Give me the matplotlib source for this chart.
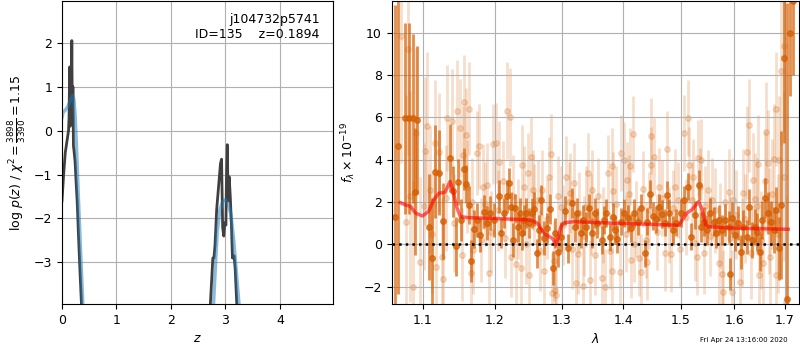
import numpy as np
import matplotlib
matplotlib.use('Agg')
import matplotlib.pyplot as plt
from matplotlib.ticker import FixedLocator, FixedFormatter, NullLocator

plt.rcParams['font.size'] = 9

# --- left panel: log p(z) ---
z_chi = [0.00, 0.03, 0.06, 0.09, 0.12, 0.13, 0.14, 0.15, 0.16, 0.17, 0.18, 0.19, 0.20, 0.21,
         0.22, 0.24, 0.26, 0.28, 0.30, 0.33, 0.37, np.nan,
         2.70, 2.77, 2.79, 2.81, 2.84, 2.88, 2.91, 2.93, 2.95, 2.97, 2.99, 3.01, 3.02, 3.035,
         3.05, 3.07, 3.09, 3.11, 3.13, 3.16, 3.18, 3.23]
pz_chi = [-1.6, -1.0, -0.5, -0.25, 0.0, 0.3, 1.45, 0.1, 1.2, 0.5, 2.05, 0.3, 1.0, -0.35,
          -0.45, -0.7, -1.2, -1.65, -2.3, -3.2, -4.3, np.nan,
          -4.5, -2.9, -2.9, -2.6, -1.8, -1.2, -0.75, -0.65, -2.2, -2.4, -2.1, -2.15, -1.1, -0.32,
          -1.6, -1.05, -1.5, -2.1, -2.9, -2.85, -3.15, -4.5]

z_pdf = [0.0, 0.02, 0.05, 0.08, 0.11, 0.14, 0.17, 0.20, 0.22, 0.24, 0.26, 0.28, 0.30, 0.32,
         0.34, 0.36, 0.38, 0.40, np.nan,
         2.76, 2.80, 2.85, 2.90, 2.95, 3.00, 3.05, 3.10, 3.15, 3.20, 3.25, 3.28]
pz_pdf = [0.3, 0.42, 0.45, 0.5, 0.55, 0.65, 0.75, 0.8, 0.7, 0.35, -0.2, -0.85, -1.5, -2.1,
          -2.7, -3.3, -3.9, -4.5, np.nan,
          -4.5, -3.5, -2.3, -1.8, -1.62, -1.57, -1.65, -1.9, -2.45, -3.2, -3.95, -4.5]

# --- right panel: spectrum ---
lam_d = [1.0645, 1.068, 1.077, 1.082, 1.088, 1.090, 1.093, 1.108, 1.112, 1.117,
         1.122, 1.127, 1.1375, 1.141, 1.145, 1.148, 1.152, 1.156, 1.159, 1.163,
         1.166, 1.170, 1.175, 1.179, 1.184, 1.188, 1.193, 1.199,
         1.206, 1.209, 1.2135, 1.217, 1.221, 1.223, 1.226, 1.229, 1.233, 1.236,
         1.2395, 1.243, 1.246, 1.250, 1.254, 1.258, 1.2615, 1.2655, 1.269, 1.273,
         1.278, 1.282, 1.286, 1.290, 1.295, 1.2985, 1.306, 1.310, 1.317, 1.321,
         1.324, 1.330, 1.3335, 1.339, 1.343, 1.349, 1.353, 1.357,
         1.364, 1.3685, 1.372, 1.3775, 1.383, 1.386, 1.390, 1.3955, 1.402, 1.408,
         1.4135, 1.419, 1.425, 1.4305, 1.4365, 1.441, 1.446, 1.451, 1.457, 1.461,
         1.467, 1.472, 1.475, 1.480, 1.486, 1.492, 1.500, 1.506, 1.5135, 1.5195,
         1.526, 1.534, 1.538,
         1.542, 1.548, 1.5545, 1.561, 1.566, 1.570, 1.576, 1.5825, 1.589, 1.591,
         1.595, 1.601, 1.608, 1.6125, 1.6175, 1.624, 1.629, 1.634, 1.640, 1.6445,
         1.650, 1.655, 1.661, 1.6665, 1.673, 1.678, 1.682, 1.688, 1.693, 1.6975,
         1.705, 1.710, 1.716]
flux_d = [1.31, 4.63, 5.95, 5.95, 5.95, 2.49, 5.86, 0.83, -0.63, 3.44,
          3.39, 1.12, 4.08, 2.5, -0.1, 2.94, 1.15, 3.55, 2.86, 1.86,
          -0.79, 0.71, 1.15, 0.44, 1.55, 1.0, 1.47, 1.15,
          2.26, 0.53, 1.47, 2.26, 2.89, 1.78, 0.2, 1.7, 0.83, 1.47,
          0.52, 1.15, 1.47, 1.02, 1.47, 1.66, -0.43, 0.68, 2.1, 0.28,
          0.76, 1.66, -1.14, 0.52, -0.35, 0.36, 1.59, -0.19, 1.94, 0.83,
          1.47, 0.52, 1.15, 0.83, 1.7, 0.52, 1.47, 1.02,
          0.2, 1.15, 1.47, 0.33, 1.31, 0.68, 0.24, 1.07, 1.47, 1.23,
          0.76, 1.47, 1.07, 1.71, -0.43, 1.07, 2.38, 1.34, 1.18, 1.75,
          1.44, 1.02, 2.34, 1.47, 0.68, 1.02, 1.47, 2.1, 2.73, 0.36,
          1.39, 2.81, 0.83,
          1.07, 0.68, 1.47, 1.07, 0.52, 1.15, 0.68, 1.15, 0.83, -1.42,
          1.23, 0.44, 1.0, -0.35, 0.83, 0.36, 1.75, 0.2, 0.83, 0.6,
          -0.35, 1.15, 2.18, 1.47, 1.07, 0.68, 1.63, -0.19, 1.86, 8.8,
          -2.6, 10.0, 11.5]
err_d = [10, 7, 4.5, 4.5, 4, 3, 3.5, 2.5, 2.8, 2.2,
         2.0, 1.8, 1.6, 1.2, 1.4, 1.1, 1.0, 1.0, 0.9, 0.9,
         1.0, 0.9, 0.8, 0.8, 0.8, 0.8, 0.8, 0.8,
         0.8, 0.7, 0.7, 0.8, 0.7, 0.7, 0.8, 0.7, 0.7, 0.7,
         0.8, 0.7, 0.7, 0.7, 0.7, 0.8, 0.7, 0.7, 0.7, 0.8,
         0.7, 0.7, 0.8, 0.7, 0.7, 0.7, 0.7, 0.7, 0.7, 0.7,
         0.7, 0.7, 0.7, 0.7, 0.7, 0.7, 0.7, 0.7,
         0.65, 0.65, 0.65, 0.65, 0.65, 0.65, 0.65, 0.65, 0.65, 0.65,
         0.65, 0.65, 0.65, 0.65, 0.65, 0.65, 0.65, 0.65, 0.65, 0.65,
         0.65, 0.65, 0.65, 0.65, 0.65, 0.65, 0.65, 0.65, 0.65, 0.65,
         0.65, 0.7, 0.7,
         0.7, 0.7, 0.7, 0.7, 0.7, 0.7, 0.7, 0.75, 0.75, 0.75,
         0.75, 0.75, 0.8, 0.8, 0.8, 0.8, 0.85, 0.85, 0.85, 0.9,
         0.9, 0.9, 0.95, 1.0, 1.0, 1.1, 1.1, 1.5, 3.5, 4.0,
         14, 3.0, 3.5]

lam_l = [1.0725, 1.079, 1.081, 1.084, 1.0875, 1.091, 1.097, 1.103, 1.106, 1.1095,
         1.117, 1.1175, 1.122, 1.126, 1.128, 1.1335, 1.140, 1.146, 1.150, 1.1555,
         1.156, 1.159, 1.160, 1.163, 1.166, 1.169, 1.174, 1.177, 1.183, 1.188,
         1.191, 1.197,
         1.2015, 1.206, 1.211, 1.218, 1.2215, 1.224, 1.231, 1.238, 1.2395, 1.243,
         1.248, 1.250, 1.253, 1.2555, 1.263, 1.2695, 1.273, 1.280, 1.2835, 1.285,
         1.290, 1.292, 1.295, 1.2985, 1.307, 1.314, 1.3195, 1.322, 1.3255, 1.3335,
         1.338, 1.342, 1.345, 1.349, 1.354,
         1.364, 1.3695, 1.375, 1.3805, 1.382, 1.383, 1.394, 1.397, 1.401, 1.407,
         1.412, 1.4125, 1.416, 1.419, 1.4275, 1.4305, 1.441, 1.4475, 1.448, 1.4535,
         1.462, 1.4715, 1.476, 1.482, 1.486, 1.495, 1.506, 1.5125, 1.515, 1.520,
         1.526, 1.532, 1.535,
         1.537, 1.542, 1.551, 1.5575, 1.570, 1.576, 1.579, 1.589, 1.595, 1.598,
         1.611, 1.6175, 1.625, 1.629, 1.637, 1.640, 1.6465, 1.6485, 1.653, 1.660,
         1.663, 1.6665, 1.671, 1.678, 1.682, 1.683, 1.688, 1.693, 1.6975, 1.703,
         # points inside the main band
         1.102, 1.113, 1.131, 1.143, 1.153, 1.168, 1.180, 1.186, 1.195, 1.204,
         1.214, 1.227, 1.234, 1.245, 1.258, 1.267, 1.277, 1.288, 1.302, 1.311,
         1.317, 1.328, 1.336, 1.347, 1.359, 1.367, 1.378, 1.388, 1.404, 1.409,
         1.421, 1.433, 1.438, 1.444, 1.458, 1.466, 1.479, 1.490, 1.498, 1.509,
         1.523, 1.529, 1.545, 1.554, 1.563, 1.573, 1.583, 1.592, 1.604, 1.614,
         1.621, 1.632, 1.644, 1.657, 1.669, 1.675, 1.686, 1.699]
flux_l = [9.84, 1.07, 9.21, 2.26, -2.02, 5.26, -0.82, 4.39, 5.57, 2.57,
          4.79, -1.06, 4.34, -0.62, -1.66, 5.97, 5.81, 6.32, 5.5, 4.23,
          6.73, 5.18, 2.73, 6.4, -1.35, -0.27, 4.31, 4.63, 2.73, 2.81,
          -1.37, 4.75,
          4.79, 3.91, 2.97, 6.32, 6.02, -0.59, -0.95, -1.14, 3.76, 2.73,
          3.36, -1.45, 4.12, 2.57, 2.1, 2.57, -1.25, 3.18, 4.28, -2.32,
          -2.17, -2.4, 2.26, 1.78, 3.2, 2.42, 2.89, -1.85, -0.46, -1.98,
          1.78, 3.36, -1.69, 2.57, -0.51,
          -1.61, -2.01, 3.36, 3.68, -1.25, 2.54, -1.3, 4.31, 4.0, 3.05,
          3.68, -0.74, 5.23, 0.01, -0.66, -1.3, -0.82, 5.1, 3.76, 4.15,
          2.73, -0.43, 4.5, -0.46, 1.71, 2.1, 5.26, 5.97, 3.76, 2.1,
          0.05, 4.08, 2.73,
          4.0, -0.43, 2.57, 2.1, -0.9, -1.41, -2.25, 2.49, -2.25, 2.1,
          -1.77, 2.42, 4.34, 5.62, 3.05, 2.13, 3.81, -1.45, 0.2, 2.97,
          5.29, 3.84, -0.59, 4.03, 6.4, -1.45, 4.0, 8.18, 9.36, -2.72,
          1.8, 0.5, 2.2, 1.0, -0.5, 2.0, 0.2, 1.9, 0.6, 1.6,
          0.3, 2.3, 1.2, 0.0, 1.9, -0.3, 1.2, -0.8, 0.9, 2.0,
          -0.2, 1.5, 0.4, 1.4, 2.3, 0.9, -0.3, 1.9, 0.5, 2.4,
          1.2, 2.6, 0.2, 1.6, 0.6, 2.2, 0.9, 2.7, -0.2, 1.3,
          3.2, -0.6, 1.8, 0.4, 1.6, 0.9, 2.0, 0.3, 1.4, 0.1,
          1.2, -0.4, 1.8, -0.9, 1.1, 2.4, 0.5, 3.2]
err_l = [6, 6, 5, 5, 5, 4, 4, 3.5, 3.5, 3,
         3, 3, 2.8, 2.8, 2.8, 2.5, 2.5, 2.4, 2.3, 2.3,
         2.2, 2.2, 2.2, 2.2, 2.1, 2.1, 2.0, 2.0, 2.0, 2.0,
         2.0, 1.9,
         1.9, 1.9, 1.9, 2.3, 2.3, 1.9, 1.9, 1.9, 1.9, 1.9,
         1.9, 1.9, 1.9, 1.9, 1.9, 1.9, 1.9, 1.9, 1.9, 1.9,
         1.9, 1.9, 1.9, 1.9, 1.9, 1.9, 1.9, 1.9, 1.9, 1.9,
         1.9, 1.9, 1.9, 1.9, 1.9,
         1.8, 1.8, 1.8, 1.8, 1.8, 1.8, 1.8, 1.8, 1.8, 1.8,
         1.8, 1.8, 1.8, 1.8, 1.8, 1.8, 1.8, 1.8, 1.8, 1.8,
         1.8, 1.8, 1.8, 1.8, 1.8, 1.8, 1.8, 1.8, 1.8, 1.8,
         1.8, 1.8, 1.8,
         1.9, 1.9, 1.9, 2.0, 2.0, 2.0, 2.0, 2.0, 2.0, 2.0,
         2.1, 2.1, 2.2, 2.2, 2.2, 2.2, 2.3, 2.3, 2.3, 2.4,
         2.4, 2.5, 2.5, 2.6, 2.7, 2.8, 3.0, 3.5, 4.0, 5.0,
         3.0, 2.8, 2.5, 2.3, 2.2, 2.1, 2.0, 2.0, 1.9, 1.9,
         1.9, 1.9, 1.9, 1.9, 1.9, 1.9, 1.9, 1.9, 1.9, 1.9,
         1.9, 1.9, 1.9, 1.9, 1.8, 1.8, 1.8, 1.8, 1.8, 1.8,
         1.8, 1.8, 1.8, 1.8, 1.8, 1.8, 1.8, 1.8, 1.8, 1.8,
         1.8, 1.8, 1.9, 1.9, 2.0, 2.0, 2.0, 2.0, 2.1, 2.1,
         2.1, 2.2, 2.3, 2.3, 2.5, 2.6, 2.8, 4.0]

lam_m = [1.071, 1.078, 1.084, 1.091, 1.100, 1.108, 1.115, 1.122, 1.130, 1.137,
         1.141, 1.146, 1.151, 1.162, 1.200, 1.253, 1.263, 1.273, 1.281, 1.286,
         1.291, 1.2935, 1.299, 1.304, 1.320, 1.360, 1.497, 1.511, 1.520, 1.533,
         1.539, 1.546, 1.552, 1.604, 1.707]
flux_m = [1.97, 1.86, 1.80, 1.47, 1.34, 1.55, 2.10, 2.42, 2.45, 2.97,
          2.57, 1.78, 1.31, 1.26, 1.22, 1.15, 0.99, 0.52, 0.36, 0.28,
          -0.03, 0.20, 0.83, 1.02, 1.07, 1.02, 0.90, 1.47, 1.63, 2.02,
          1.63, 0.91, 0.83, 0.76, 0.71]

lam_ticks = [1.1, 1.2, 1.3, 1.4, 1.5, 1.6, 1.7]
grism_color = (0.8353, 0.3686, 0.0)

fig = plt.figure(figsize=(8, 3.5), dpi=100)
axz = fig.add_axes([0.0775, 0.131, 0.339, 0.866])
ax = fig.add_axes([0.4896, 0.131, 0.509, 0.866])

# p(z)
axz.plot(z_chi, pz_chi, color='0.25', lw=2)
axz.plot(z_pdf, pz_pdf, color='tab:blue', alpha=0.5, lw=2.5)
axz.set_xlim(0, 4.98)
axz.set_ylim(-3.95, 2.95)
axz.set_xticks([0, 1, 2, 3, 4])
axz.set_yticks([-3, -2, -1, 0, 1, 2])
axz.grid()
axz.set_xlabel(r'$z$')
axz.set_ylabel(r'$\log\,p(z)$' + ' / ' + r'$\chi^2=\frac{3898}{3390}=1.15$')
axz.text(0.95, 0.96, 'j104732p5741\nID=135    z=0.1894', ha='right', va='top',
         transform=axz.transAxes, fontsize=9)

# spectrum
ax.errorbar(lam_l, flux_l, yerr=err_l, fmt='o', color=grism_color, alpha=0.2,
            ms=4, elinewidth=2.0, capsize=0, zorder=1)
ax.errorbar(lam_d, flux_d, yerr=err_d, fmt='o', color=grism_color, alpha=0.7,
            ms=4, elinewidth=2.0, capsize=0, zorder=2)
ax.plot(lam_m, flux_m, color='r', alpha=0.6, lw=2.5, zorder=3)
ax.axhline(0, color='k', linestyle=':', lw=1.8, zorder=4)

ax.set_xscale('log')
ax.set_xlim(1.06, 1.729)
ax.set_ylim(-2.83, 11.5)
ax.xaxis.set_major_locator(FixedLocator(lam_ticks))
ax.xaxis.set_major_formatter(FixedFormatter(['{0:.1f}'.format(t) for t in lam_ticks]))
ax.xaxis.set_minor_locator(NullLocator())
ax.set_yticks([-2, 0, 2, 4, 6, 8, 10])
ax.grid()
ax.set_xlabel(r'$\lambda$')
ax.set_ylabel(r'$f_\lambda \times 10^{-19}$')

fig.text(0.985, 0.02, 'Fri Apr 24 13:16:00 2020', ha='right', va='bottom', fontsize=5)

fig.savefig('out.png', dpi=100)
